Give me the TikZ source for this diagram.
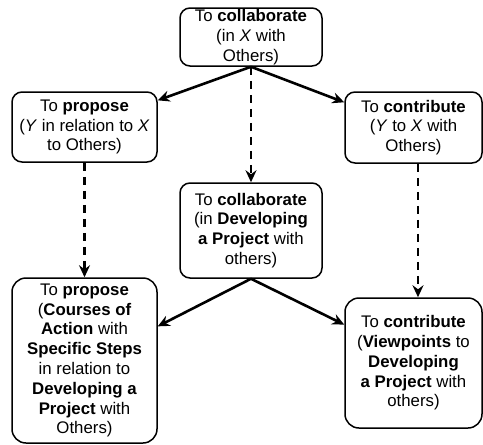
\documentclass[tikz,border=0pt]{standalone}
\usepackage{fontspec}
\setmainfont{Liberation Sans}
\usetikzlibrary{arrows.meta}
\begin{document}
\begin{tikzpicture}[x=1pt,y=-1pt,
  box/.style={draw, line width=1.5pt, rounded corners=10pt, align=center, inner sep=0pt,
    font=\fontsize{16.8}{19.8}\selectfont},
  solidarrow/.style={line width=2.6pt, -{Stealth[length=12pt,width=11pt,inset=4pt]}},
  dasharrow/.style={solidarrow, dash pattern=on 8pt off 6pt}]
\useasboundingbox (0,0) rectangle (483,445);
\node[box, minimum width=142pt, minimum height=58pt] (top) at (251,37)
  {To \textbf{collaborate}\\(in \textit{X} with\\Others)};
\node[box, minimum width=145pt, minimum height=70pt] (L) at (84.5,127)
  {To \textbf{propose}\\(\textit{Y} in relation to \textit{X}\\to Others)};
\node[box, minimum width=137pt, minimum height=71pt] (R) at (413.5,127.5)
  {To \textbf{contribute}\\(\textit{Y} to \textit{X} with\\Others)};
\node[box, minimum width=142pt, minimum height=95pt] (M) at (251,230.5)
  {To \textbf{collaborate}\\(in \textbf{Developing}\\\textbf{a Project} with\\others)};
\node[box, rounded corners=14pt, minimum width=145pt, minimum height=165pt] (BL) at (84.5,360.5)
  {To \textbf{propose}\\(\textbf{Courses of}\\\textbf{Action} with\\\textbf{Specific Steps}\\in relation to\\\textbf{Developing a}\\\textbf{Project} with\\Others)};
\node[box, rounded corners=14pt, minimum width=137pt, minimum height=130pt] (BR) at (413.5,363)
  {To \textbf{contribute}\\(\textbf{Viewpoints} to\\\textbf{Developing}\\\textbf{a Project} with\\others)};
\draw[solidarrow] (top.south) -- (L.20);
\draw[solidarrow] (top.south) -- (R.160);
\draw[dasharrow] (top.south) -- (M.north);
\draw[dasharrow] (L.south) -- (BL.north);
\draw[dasharrow] ([xshift=4.5pt]R.south) -- ([xshift=4.5pt]BR.north);
\draw[solidarrow] (M.south) -- (BL.25);
\draw[solidarrow] (M.south) -- (BR.151);
\end{tikzpicture}
\end{document}
